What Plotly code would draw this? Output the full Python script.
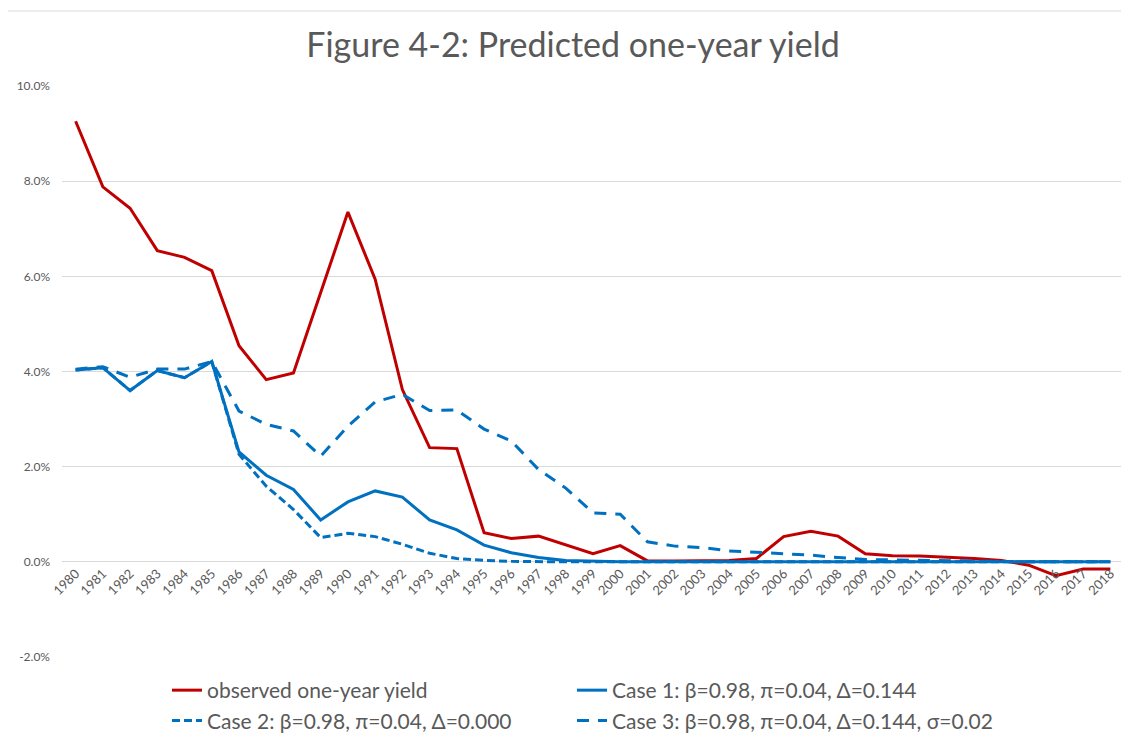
import plotly.graph_objects as go

years = [str(y) for y in range(1980, 2019)]

observed = [9.26, 7.88, 7.43, 6.54, 6.40, 6.12, 4.54, 3.83, 3.97, 5.66,
            7.35, 5.94, 3.62, 2.40, 2.38, 0.61, 0.49, 0.54, 0.36, 0.17,
            0.34, 0.02, 0.02, 0.02, 0.03, 0.07, 0.53, 0.64, 0.54, 0.17,
            0.13, 0.12, 0.10, 0.07, 0.03, -0.07, -0.29, -0.15, -0.15]

case1 = [4.03, 4.08, 3.60, 4.02, 3.87, 4.21, 2.31, 1.82, 1.52, 0.88,
         1.26, 1.49, 1.36, 0.88, 0.67, 0.35, 0.19, 0.09, 0.03, 0.01,
         0.00, 0.00, 0.00, 0.00, 0.00, 0.00, 0.00, 0.00, 0.00, 0.00,
         0.00, 0.00, 0.00, 0.00, 0.00, 0.00, 0.00, 0.00, 0.00]

case2 = [4.03, 4.08, 3.60, 4.02, 3.87, 4.21, 2.26, 1.59, 1.10, 0.51,
         0.60, 0.53, 0.37, 0.18, 0.07, 0.03, 0.01, 0.00, 0.00, 0.00,
         0.00, 0.00, 0.00, 0.00, 0.00, 0.00, 0.00, 0.00, 0.00, 0.00,
         0.00, 0.00, 0.00, 0.00, 0.00, 0.00, 0.00, 0.00, 0.00]

case3 = [4.05, 4.10, 3.88, 4.05, 4.05, 4.21, 3.17, 2.89, 2.75, 2.22,
         2.85, 3.36, 3.52, 3.18, 3.19, 2.79, 2.54, 1.94, 1.55, 1.03,
         1.00, 0.42, 0.33, 0.30, 0.23, 0.20, 0.17, 0.14, 0.09, 0.05,
         0.04, 0.03, 0.02, 0.01, 0.00, 0.00, 0.00, 0.00, 0.00]

y_tickvals = [-2, 0, 2, 4, 6, 8, 10]
y_ticktext = ["-2.0%", "0.0%", "2.0%", "4.0%", "6.0%", "8.0%", "10.0%"]

names = ["observed one-year yield",
         "Case 1: β=0.98, π=0.04, Δ=0.144",
         "Case 2: β=0.98, π=0.04, Δ=0.000",
         "Case 3: β=0.98, π=0.04, Δ=0.144, σ=0.02"]

RED = "#C00000"
BLUE = "#0070C0"
FONT = "Lato, 'Open Sans', sans-serif"
GREY = "#595959"

fig = go.Figure()
fig.add_trace(go.Scatter(x=years, y=observed, name=names[0], mode="lines",
                         line=dict(color=RED, width=3),
                         legend="legend", legendrank=1))
fig.add_trace(go.Scatter(x=years, y=case1, name=names[1], mode="lines",
                         line=dict(color=BLUE, width=3),
                         legend="legend2", legendrank=1))
fig.add_trace(go.Scatter(x=years, y=case2, name=names[2], mode="lines",
                         line=dict(color=BLUE, width=3, dash="8px,4px"),
                         legend="legend", legendrank=2))
fig.add_trace(go.Scatter(x=years, y=case3, name=names[3], mode="lines",
                         line=dict(color=BLUE, width=3, dash="12px,9px"),
                         legend="legend2", legendrank=2))

# page body has an 8px margin: work in screen coordinates minus 8
OFF = 8
FW, FH = 1129 - OFF, 744 - OFF
L, R, T, B = 62 - OFF, 1124 - OFF, 86 - OFF, 657 - OFF
W, H = R - L, B - T

def px_x(p):
    return (p - OFF - L) / W

def px_y(p):
    return (B - (p - OFF)) / H

leg_common = dict(orientation="v", yanchor="top", y=px_y(670),
                  xanchor="left", font=dict(size=21, color=GREY),
                  bgcolor="rgba(0,0,0,0)", itemwidth=30, tracegroupgap=0)

fig.update_layout(
    width=FW, height=FH,
    margin=dict(l=L, r=FW - R, t=T, b=FH - B, autoexpand=False),
    paper_bgcolor="white", plot_bgcolor="white",
    font=dict(family=FONT, color=GREY),
    title=dict(text="Figure 4-2: Predicted one-year yield",
               x=(573 - OFF) / FW, xanchor="center",
               y=1 - (45 - OFF) / FH, yanchor="middle",
               xref="container", yref="container",
               font=dict(family=FONT, size=34, color=GREY)),
    xaxis=dict(type="category", range=[-0.5, 38.5], tickangle=-45,
               anchor="free", position=px_y(562.5), automargin=False,
               showgrid=False, showline=False, ticks="",
               tickfont=dict(size=13, color=GREY)),
    yaxis=dict(range=[-2, 10], tickvals=y_tickvals, ticktext=y_ticktext,
               showgrid=True, gridcolor="#D9D9D9", gridwidth=1,
               automargin=False, ticklabelstandoff=11,
               zeroline=False, showline=False, ticks="",
               tickfont=dict(size=12, color=GREY)),
    showlegend=True,
    legend=dict(x=px_x(167), **leg_common),
    legend2=dict(x=px_x(572), **leg_common),
    shapes=[dict(type="rect", xref="paper", yref="paper",
                 x0=px_x(6), x1=px_x(1140), y0=px_y(760), y1=px_y(11),
                 line=dict(color="#D9D9D9", width=1), layer="below")],
)

fig.write_html("out.html")
